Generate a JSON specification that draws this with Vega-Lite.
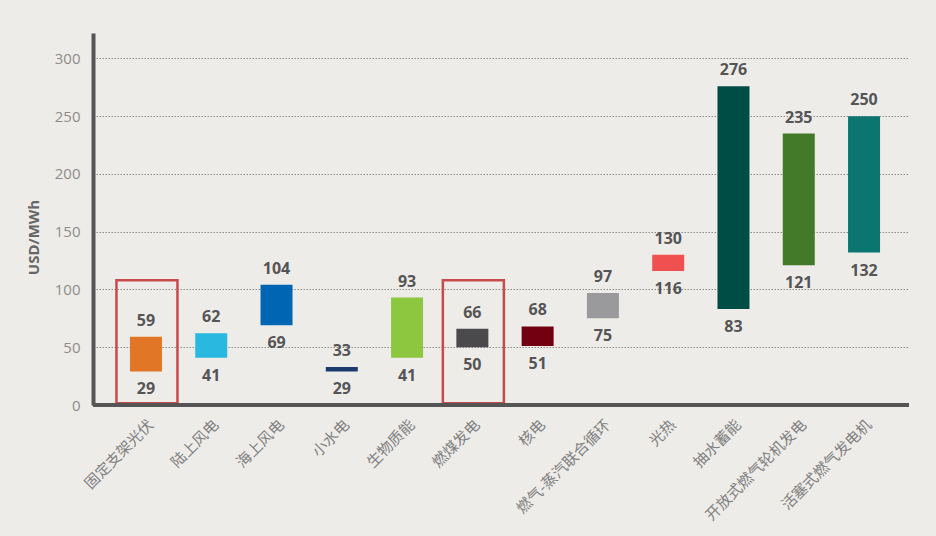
{
  "$schema": "https://vega.github.io/schema/vega-lite/v6.json",
  "width": 816,
  "height": 372,
  "autosize": {"type": "none"},
  "padding": {"left": 93, "top": 33, "right": 27, "bottom": 131},
  "background": "#eeece9",
  "config": {
    "view": {"stroke": null},
    "font": "Open Sans",
    "axisY": {
      "grid": true, "gridColor": "#8c8c8c", "gridDash": [1.5, 1.5], "gridWidth": 1,
      "domain": true, "domainColor": "#555555", "domainWidth": 4,
      "ticks": false, "labelColor": "#8c8c8c", "labelFontSize": 15, "labelPadding": 13,
      "titleFontSize": 15, "titleFontWeight": "bold", "titleColor": "#666666",
      "titleAngle": 270, "titleX": -60, "titleY": 204, "titleAlign": "center", "titleBaseline": "middle"
    }
  },
  "data": {
    "values": [
      {"source": "固定支架光伏", "low": 29, "high": 59, "highlight": true},
      {"source": "陆上风电", "low": 41, "high": 62, "highlight": false},
      {"source": "海上风电", "low": 69, "high": 104, "highlight": false},
      {"source": "小水电", "low": 29, "high": 33, "highlight": false},
      {"source": "生物质能", "low": 41, "high": 93, "highlight": false},
      {"source": "燃煤发电", "low": 50, "high": 66, "highlight": true},
      {"source": "核电", "low": 51, "high": 68, "highlight": false},
      {"source": "燃气-蒸汽联合循环", "low": 75, "high": 97, "highlight": false},
      {"source": "光热", "low": 116, "high": 130, "highlight": false},
      {"source": "抽水蓄能", "low": 83, "high": 276, "highlight": false},
      {"source": "开放式燃气轮机发电", "low": 121, "high": 235, "highlight": false},
      {"source": "活塞式燃气发电机", "low": 132, "high": 250, "highlight": false}
    ]
  },
  "layer": [
    {
      "mark": {"type": "bar", "width": 32, "xOffset": 4},
      "encoding": {
        "x": {
          "field": "source", "type": "nominal", "sort": null,
          "scale": {"paddingInner": 0, "paddingOuter": 0.25},
          "axis": {
            "title": null, "domain": false, "ticks": false,
            "labelAngle": -45, "labelAlign": "right", "labelBaseline": "top",
            "labelPadding": 12, "labelOffset": 4, "labelFont": "Noto Sans CJK SC",
            "labelFontSize": 15, "labelColor": "#808080", "labelLimit": 300
          }
        },
        "y": {
          "field": "low", "type": "quantitative", "title": "USD/MWh",
          "scale": {"domain": [0, 322], "nice": false},
          "axis": {"values": [0, 50, 100, 150, 200, 250, 300]}
        },
        "y2": {"field": "high"},
        "color": {
          "field": "source", "type": "nominal", "sort": null, "legend": null,
          "scale": {
            "domain": ["固定支架光伏", "陆上风电", "海上风电", "小水电", "生物质能", "燃煤发电", "核电", "燃气-蒸汽联合循环", "光热", "抽水蓄能", "开放式燃气轮机发电", "活塞式燃气发电机"],
            "range": ["#e07626", "#29b9e0", "#0066b3", "#1b3b6f", "#8dc63f", "#4a4a4c", "#720010", "#9a9a9c", "#f05050", "#004d46", "#437a29", "#0b756f"]
          }
        }
      }
    },
    {
      "mark": {"type": "text", "baseline": "alphabetic", "dy": -11, "xOffset": 4, "fontSize": 16, "fontWeight": "bold", "color": "#555555"},
      "encoding": {
        "x": {"field": "source", "type": "nominal", "sort": null},
        "y": {"field": "high", "type": "quantitative", "title": "USD/MWh", "axis": {"values": [0, 50, 100, 150, 200, 250, 300]}},
        "text": {"field": "high", "type": "quantitative"}
      }
    },
    {
      "mark": {"type": "text", "baseline": "top", "dy": 10, "xOffset": 4, "fontSize": 16, "fontWeight": "bold", "color": "#555555"},
      "encoding": {
        "x": {"field": "source", "type": "nominal", "sort": null},
        "y": {"field": "low", "type": "quantitative", "title": "USD/MWh", "axis": {"values": [0, 50, 100, 150, 200, 250, 300]}},
        "text": {"field": "low", "type": "quantitative"}
      }
    },
    {
      "transform": [{"filter": "datum.highlight"}],
      "mark": {"type": "bar", "width": 61, "xOffset": 5, "fill": null, "fillOpacity": 0, "stroke": "#c84b4b", "strokeWidth": 2.5},
      "encoding": {
        "x": {"field": "source", "type": "nominal", "sort": null},
        "y": {"datum": 1.5, "type": "quantitative", "title": "USD/MWh", "axis": {"values": [0, 50, 100, 150, 200, 250, 300]}},
        "y2": {"datum": 108}
      }
    },
    {
      "data": {"values": [{}]},
      "mark": {"type": "rule", "color": "#555555", "strokeWidth": 4},
      "encoding": {"y": {"datum": 0, "type": "quantitative", "title": "USD/MWh", "axis": {"values": [0, 50, 100, 150, 200, 250, 300]}}}
    }
  ]
}
